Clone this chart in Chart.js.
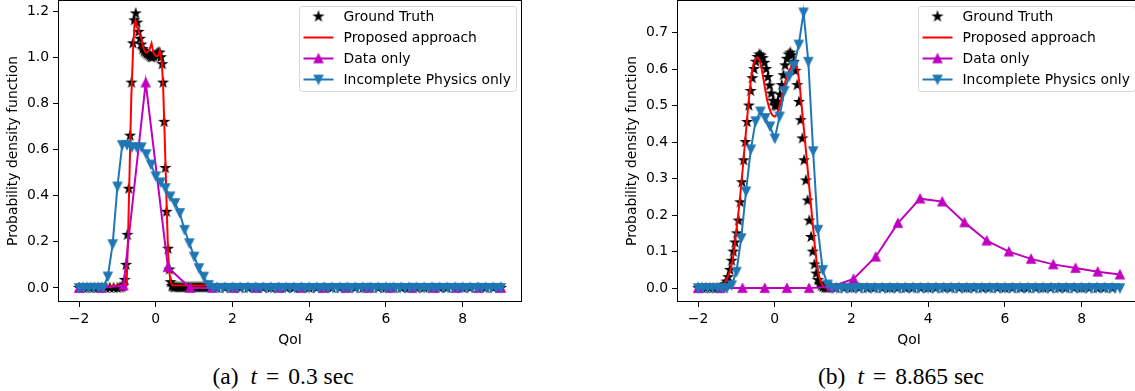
<!DOCTYPE html>
<html>
<head>
<meta charset="utf-8">
<script src="https://cdn.jsdelivr.net/npm/chart.js@4.4.0/dist/chart.umd.min.js"></script>
<style>
  body { margin: 0; width: 1135px; height: 391px; overflow: hidden; background: #fff; position: relative; }
  canvas { position: absolute; top: 0; }
  #chartA { left: 0; }
  #chartB { left: 619px; }
  .cap {
    position: absolute; top: 363px; transform: translateX(-50%);
    font-family: "Liberation Serif", serif; font-size: 23.5px; line-height: 26px;
    white-space: nowrap; color: #000;
  }
  .cap .gap { margin-left: 12px; }
  .cap .eq { margin: 0 9px; }
</style>
</head>
<body>
<canvas id="chartA" width="560" height="350"></canvas>
<canvas id="chartB" width="560" height="350"></canvas>
<div class="cap" style="left:283px">(a)<i class="gap">t</i><span class="eq">=</span>0.3 sec</div>
<div class="cap" style="left:901px">(b)<i class="gap">t</i><span class="eq">=</span>8.865 sec</div>
<script>
// ---- data ----
const labels = ["Ground Truth", "Proposed approach", "Data only", "Incomplete Physics only"];

const xTicks = [-2, 0, 2, 4, 6, 8];
const yTicksA = [0, 0.2, 0.4, 0.6, 0.8, 1.0, 1.2];
const yTicksB = [0, 0.1, 0.2, 0.3, 0.4, 0.5, 0.6, 0.7];

// Data only (coarse grid)
const dataX = [-2, -1.421, -0.842, -0.263, 0.316, 0.895, 1.474, 2.053, 2.632, 3.211,
  3.789, 4.368, 4.947, 5.526, 6.105, 6.684, 7.263, 7.842, 8.421, 9];
const dataA = [0, 0, 0.01, 0.89, 0.09, 0, 0, 0, 0, 0, 0, 0, 0, 0, 0, 0, 0, 0, 0, 0];
const dataB = [0, 0, 0, 0, 0, 0, 0.004, 0.025, 0.086, 0.178,
  0.245, 0.237, 0.18, 0.13, 0.1, 0.08, 0.065, 0.055, 0.045, 0.037];

// Incomplete physics only
const physX = [-2, -1.875, -1.75, -1.625, -1.5, -1.375, -1.25, -1.125, -1, -0.875,
  -0.75, -0.625, -0.5, -0.375, -0.25, -0.125, 0, 0.125, 0.25, 0.375,
  0.5, 0.625, 0.75, 0.875, 1, 1.125, 1.25, 1.375, 1.5, 1.625,
  1.75, 1.875, 2, 2.125, 2.25, 2.375, 2.5, 2.625, 2.75, 2.875,
  3, 3.125, 3.25, 3.375, 3.5, 3.625, 3.75, 3.875, 4, 4.125,
  4.25, 4.375, 4.5, 4.625, 4.75, 4.875, 5, 5.125, 5.25, 5.375,
  5.5, 5.625, 5.75, 5.875, 6, 6.125, 6.25, 6.375, 6.5, 6.625,
  6.75, 6.875, 7, 7.125, 7.25, 7.375, 7.5, 7.625, 7.75, 7.875,
  8, 8.125, 8.25, 8.375, 8.5, 8.625, 8.75, 8.875, 9];
const physA = [0, 0, 0, 0, 0, 0, 0.05, 0.19, 0.44, 0.62,
  0.62, 0.61, 0.61, 0.61, 0.58, 0.535, 0.484, 0.458, 0.433, 0.397,
  0.368, 0.325, 0.252, 0.194, 0.136, 0.086, 0.049, 0.013, 0, 0,
  0, 0, 0, 0, 0, 0, 0, 0, 0, 0,
  0, 0, 0, 0, 0, 0, 0, 0, 0, 0,
  0, 0, 0, 0, 0, 0, 0, 0, 0, 0,
  0, 0, 0, 0, 0, 0, 0, 0, 0, 0,
  0, 0, 0, 0, 0, 0, 0, 0, 0, 0,
  0, 0, 0, 0, 0, 0, 0, 0, 0];
const physB = [0, 0, 0, 0, 0, 0, 0, 0.008, 0.045, 0.137,
  0.265, 0.38, 0.457, 0.484, 0.466, 0.443, 0.41, 0.47, 0.54, 0.58,
  0.61, 0.667, 0.755, 0.62, 0.375, 0.16, 0.05, 0.01, 0, 0,
  0, 0, 0, 0, 0, 0, 0, 0, 0, 0,
  0, 0, 0, 0, 0, 0, 0, 0, 0, 0,
  0, 0, 0, 0, 0, 0, 0, 0, 0, 0,
  0, 0, 0, 0, 0, 0, 0, 0, 0, 0,
  0, 0, 0, 0, 0, 0, 0, 0, 0, 0,
  0, 0, 0, 0, 0, 0, 0, 0, 0];

// Ground truth (a)
const gtAx = [-2, -1.9, -1.8, -1.7, -1.6, -1.5, -1.4, -1.3, -1.2, -1.1, -1, -0.93,
  -0.885, -0.848, -0.81, -0.775, -0.74, -0.705, -0.67, -0.633, -0.596, -0.56,
  -0.523, -0.486, -0.45, -0.413, -0.376, -0.34, -0.303, -0.266, -0.23, -0.193,
  -0.156, -0.12, -0.083, -0.046, -0.01, 0.027, 0.064, 0.1, 0.137, 0.17,
  0.19, 0.22, 0.25, 0.28, 0.32, 0.355, 0.385, 0.42, 0.46,
  0.5, 0.55, 0.6, 0.65, 0.7, 0.75, 0.8, 0.85, 0.9, 0.95, 1, 1.05, 1.1, 1.15, 1.2, 1.25, 1.3, 1.35, 1.4,
  1.6, 1.8, 2, 2.2, 2.4, 2.6, 2.8, 3, 3.2, 3.4, 3.6, 3.8, 4, 4.2, 4.4, 4.6, 4.8, 5, 5.2,
  5.4, 5.6, 5.8, 6, 6.2, 6.4, 6.6, 6.8, 7, 7.2, 7.4, 7.6, 7.8, 8, 8.2, 8.4, 8.6, 8.8, 9];
const gtAy = [0, 0, 0, 0, 0, 0, 0, 0, 0, 0, 0, 0.002,
  0.004, 0.01, 0.035, 0.1, 0.23, 0.43, 0.66, 0.89, 1.06, 1.16,
  1.19, 1.15, 1.11, 1.08, 1.055, 1.035, 1.025, 1.02, 1.015, 1.01,
  1.005, 1, 1, 1.005, 1.01, 1.015, 1.02, 1.02, 1, 0.97,
  0.89, 0.72, 0.52, 0.33, 0.17, 0.08, 0.025, 0.008, 0.003,
  0.003, 0.003, 0.003, 0.003, 0.003, 0.003, 0.003, 0.003, 0.003, 0.003, 0.003, 0.003, 0.003, 0.003, 0.003, 0.003, 0.003, 0.003, 0.003,
  0, 0, 0, 0, 0, 0, 0, 0, 0, 0, 0, 0, 0, 0, 0, 0, 0, 0, 0,
  0, 0, 0, 0, 0, 0, 0, 0, 0, 0, 0, 0, 0, 0, 0, 0, 0, 0, 0];

// Ground truth (b)
const gtBx = [-2, -1.9, -1.8, -1.7, -1.6, -1.5, -1.4,
  -1.35, -1.305, -1.26, -1.215, -1.17, -1.125, -1.08, -1.035, -0.99, -0.945,
  -0.9, -0.855, -0.81, -0.765, -0.72, -0.675, -0.63, -0.585, -0.54, -0.495,
  -0.45, -0.405, -0.36, -0.315, -0.27, -0.225, -0.18, -0.135, -0.09, -0.045,
  0, 0.045, 0.09, 0.135, 0.18, 0.225, 0.27, 0.315, 0.36, 0.405,
  0.45, 0.495, 0.54, 0.585, 0.63, 0.675, 0.72, 0.765, 0.81, 0.855,
  0.9, 0.945, 0.99, 1.035, 1.08, 1.125, 1.17, 1.215, 1.26, 1.305, 1.35,
  1.4, 1.6, 1.8, 2, 2.2, 2.4, 2.6, 2.8, 3, 3.2, 3.4, 3.6, 3.8, 4, 4.2, 4.4, 4.6, 4.8, 5, 5.2,
  5.4, 5.6, 5.8, 6, 6.2, 6.4, 6.6, 6.8, 7, 7.2, 7.4, 7.6, 7.8, 8, 8.2, 8.4, 8.6, 8.8, 9];
const gtBy = [0, 0, 0, 0, 0, 0, 0.001,
  0.004, 0.01, 0.018, 0.03, 0.05, 0.075, 0.1, 0.125, 0.15, 0.185,
  0.235, 0.29, 0.35, 0.4, 0.455, 0.5, 0.54, 0.575, 0.6, 0.62,
  0.633, 0.64, 0.637, 0.63, 0.617, 0.6, 0.578, 0.555, 0.533, 0.513,
  0.5, 0.498, 0.51, 0.53, 0.556, 0.583, 0.61, 0.628, 0.64, 0.645,
  0.638, 0.62, 0.595, 0.556, 0.51, 0.46, 0.41, 0.35, 0.295, 0.24,
  0.185, 0.14, 0.1, 0.065, 0.04, 0.022, 0.012, 0.006, 0.003, 0.001, 0,
  0, 0, 0, 0, 0, 0, 0, 0, 0, 0, 0, 0, 0, 0, 0, 0, 0, 0, 0,
  0, 0, 0, 0, 0, 0, 0, 0, 0, 0, 0, 0, 0, 0, 0, 0, 0, 0, 0];

// Proposed approach (a)
const redAx = [-2, -1.3, -0.9, -0.79, -0.77, -0.76, -0.72, -0.68, -0.64, -0.59,
  -0.55, -0.53, -0.49, -0.46, -0.43, -0.4, -0.37, -0.34, -0.31, -0.28,
  -0.25, -0.22, -0.19, -0.16, -0.13, -0.11, -0.08, -0.05, -0.02, 0.01,
  0.04, 0.07, 0.1, 0.13, 0.16, 0.19, 0.23, 0.28, 0.32, 0.36,
  0.39, 0.43, 1.3, 9];
const redAy = [0.005, 0.008, 0.012, 0.013, 0.015, 0.02, 0.24, 0.53, 0.82, 1.04,
  1.15, 1.16, 1.13, 1.12, 1.1, 1.09, 1.08, 1.05, 1.035, 1.025,
  1.02, 1.022, 1.028, 1.035, 1.05, 1.06, 1.035, 1.015, 1.01, 1.005,
  1.005, 1.01, 1.03, 1.015, 0.97, 0.88, 0.67, 0.38, 0.15, 0.06,
  0.025, 0.012, 0.01, 0.004];

// Proposed approach (b)
const redBx = [-2, -1.45, -1.4, -1.35, -1.3, -1.25, -1.2, -1.15, -1.1, -1.05,
  -1, -0.95, -0.9, -0.85, -0.8, -0.75, -0.7, -0.65, -0.6, -0.55,
  -0.5, -0.45, -0.4, -0.35, -0.3, -0.25, -0.2, -0.15, -0.1, -0.05,
  0, 0.05, 0.1, 0.15, 0.2, 0.25, 0.3, 0.35, 0.4, 0.45,
  0.5, 0.55, 0.6, 0.65, 0.7, 0.75, 0.8, 0.85, 0.9, 0.95,
  1, 1.05, 1.1, 1.15, 1.2, 1.25, 1.3, 1.4, 9];
const redBy = [0, 0.001, 0.003, 0.008, 0.015, 0.025, 0.037, 0.052, 0.075, 0.11,
  0.16, 0.205, 0.255, 0.31, 0.37, 0.43, 0.49, 0.545, 0.59, 0.615,
  0.628, 0.632, 0.625, 0.605, 0.575, 0.545, 0.515, 0.495, 0.48, 0.472,
  0.47, 0.475, 0.49, 0.51, 0.53, 0.555, 0.575, 0.59, 0.6, 0.61,
  0.618, 0.62, 0.595, 0.555, 0.5, 0.445, 0.39, 0.335, 0.275, 0.22,
  0.165, 0.11, 0.065, 0.035, 0.017, 0.007, 0.002, 0, 0];

// ---- drawing ----
const FONT = '"DejaVu Sans"';
const FS = 13.9;
Chart.defaults.font.family = FONT;
Chart.defaults.font.size = FS;
Chart.defaults.color = "#000";

// matplotlib-like marker glyphs (6pt marker, 1pt edge at 100 dpi)
function marker(kind, color) {
  const c = document.createElement("canvas");
  c.width = 16; c.height = 16;
  const g = c.getContext("2d");
  const r = 4.17;
  g.translate(8, 8);
  g.beginPath();
  if (kind === "star") {
    for (let i = 0; i < 10; i++) {
      const rr = i % 2 ? r * 0.382 : r;
      const a = -Math.PI / 2 + i * Math.PI / 5;
      g.lineTo(rr * Math.cos(a), rr * Math.sin(a));
    }
  } else {
    const s = kind === "up" ? 1 : -1;
    g.moveTo(0, -r * s);
    g.lineTo(-r, r * s);
    g.lineTo(r, r * s);
  }
  g.closePath();
  g.fillStyle = color;
  g.fill();
  g.lineWidth = 1.39;
  g.strokeStyle = color;
  g.stroke();
  return c;
}
const starImg = marker("star", "#000000");
const upImg = marker("up", "#bf00bf");
const downImg = marker("down", "#1f77b4");

const pts = (xs, ys) => xs.map((x, i) => ({ x: x, y: ys[i] }));
const fmt = (v) => (v < 0 ? "\u2212" + Math.abs(v) : String(v));

// legend box in the upper right + full axes frame
const frame = {
  id: "frame",
  afterDatasetsDraw(chart) {
    const { ctx, chartArea: a } = chart;
    const dss = chart.data.datasets;
    ctx.save();
    ctx.font = FS + "px " + FONT;
    const tw = Math.max(...dss.map((d) => ctx.measureText(d.label).width));
    const w = Math.round(44 + tw + 6), h = 85;
    const bx = Math.round(a.right - 6 - w) + 0.5, by = Math.round(a.top + 6) + 0.5;
    ctx.beginPath();
    ctx.roundRect(bx, by, w, h, 3);
    ctx.fillStyle = "rgba(255,255,255,0.8)";
    ctx.fill();
    ctx.strokeStyle = "#d6d6d6";
    ctx.lineWidth = 1;
    ctx.stroke();
    dss.forEach((d, i) => {
      const y = by + 10 + i * 21;
      const h0 = bx + 4, h1 = h0 + 30, hc = (h0 + h1) / 2;
      if (d.showLine !== false) {
        ctx.beginPath();
        ctx.moveTo(h0, y);
        ctx.lineTo(h1, y);
        ctx.strokeStyle = d.borderColor;
        ctx.lineWidth = 2;
        ctx.stroke();
      }
      if (d.pointRadius > 0) {
        const img = d.pointStyle;
        ctx.drawImage(img, hc - img.width / 2, y - img.height / 2);
      }
      ctx.fillStyle = "#000";
      ctx.textBaseline = "middle";
      ctx.fillText(d.label, bx + 44, y + 0.5);
    });
    ctx.strokeStyle = "#000";
    ctx.lineWidth = 1;
    ctx.strokeRect(a.left + 0.5, a.top + 0.5, a.right - a.left - 1, a.bottom - a.top - 1);
    ctx.restore();
  },
};

function makeChart(id, gtX, gtY, redX, redY, dOnly, phys, yMin, yMax, yTicks) {
  return new Chart(document.getElementById(id), {
    type: "line",
    data: {
      datasets: [
        { label: labels[0], data: pts(gtX, gtY), showLine: false, pointStyle: starImg,
          pointRadius: 4, borderColor: "#000", order: 4 },
        { label: labels[1], data: pts(redX, redY), borderColor: "#ff0000", borderWidth: 2,
          pointRadius: 0, order: 3 },
        { label: labels[2], data: pts(dataX, dOnly), borderColor: "#bf00bf", borderWidth: 2,
          pointStyle: upImg, pointRadius: 4, order: 2 },
        { label: labels[3], data: pts(physX, phys), borderColor: "#1f77b4", borderWidth: 2,
          pointStyle: downImg, pointRadius: 4, order: 1 },
      ],
    },
    options: {
      responsive: false,
      animation: false,
      devicePixelRatio: 1,
      layout: { autoPadding: false, padding: { top: 0, right: 38, left: 0, bottom: 0 } },
      elements: { line: { tension: 0 } },
      plugins: { legend: { display: false }, tooltip: { enabled: false } },
      scales: {
        x: {
          type: "linear", min: -2.55, max: 9.55,
          afterBuildTicks: (s) => { s.ticks = xTicks.map((v) => ({ value: v })); },
          afterFit: (s) => { s.height = 48; s.paddingLeft = 0; s.paddingRight = 0; },
          ticks: { callback: (v) => fmt(v), padding: 4, maxRotation: 0, autoSkip: false },
          grid: { drawOnChartArea: false, color: "#000", tickLength: 5 },
          border: { display: false },
          title: { display: true, text: "QoI", padding: { top: 0, bottom: 1 } },
        },
        y: {
          min: yMin, max: yMax,
          afterBuildTicks: (s) => { s.ticks = yTicks.map((v) => ({ value: v })); },
          afterFit: (s) => { s.width = 58; s.paddingTop = 0; s.paddingBottom = 0; },
          ticks: { callback: (v) => v.toFixed(1), padding: 4 },
          grid: { drawOnChartArea: false, color: "#000", tickLength: 5 },
          border: { display: false },
          title: { display: true, text: "Probability density function", padding: { top: 5, bottom: 0 } },
        },
      },
    },
    plugins: [frame],
  });
}

makeChart("chartA", gtAx, gtAy, redAx, redAy, dataA, physA, -0.061, 1.248, yTicksA);
makeChart("chartB", gtBx, gtBy, redBx, redBy, dataB, physB, -0.038, 0.789, yTicksB);
</script>
</body>
</html>
